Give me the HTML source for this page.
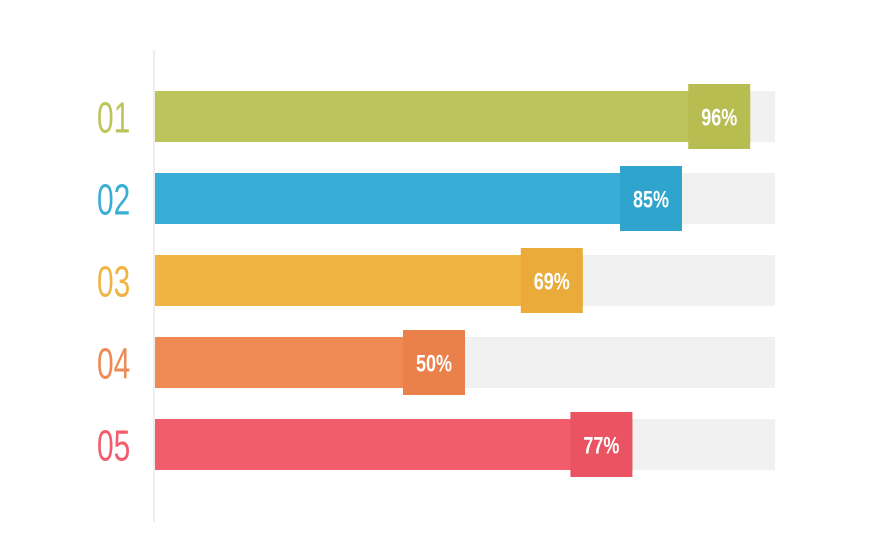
<!DOCTYPE html>
<html><head><meta charset="utf-8"><style>
body{margin:0;background:#fff;}
svg{display:block;}
text{font-family:"Liberation Sans Narrow","Liberation Sans",sans-serif;}
</style></head><body>
<svg id="chart" width="876" height="560" viewBox="0 0 876 560">
<line x1="154" y1="50" x2="154" y2="522" stroke="#eeeeee" stroke-width="2"/>
<g id="bars"></g>
</svg>
<script>
const categories = ["01","02","03","04","05"];
const values = [96,85,69,50,77];
const valueLabels = ["96%","85%","69%","50%","77%"];
const barColors = ["#bec45c","#38aed6","#f0b445","#f08a55","#f25d6b"];
const boxColors = ["#b8bd52","#2fa4cd","#eaab3a","#ea804a","#ea5361"];

const x0 = 155, trackW = 620, y0 = 91, step = 82, barH = 51, boxW = 62;
const xScale = v => x0 + v / 100 * trackW;
const yScale = i => y0 + i * step;
const NS = "http://www.w3.org/2000/svg";
const g = document.getElementById("bars");
function mk(tag, attrs){const e=document.createElementNS(NS,tag);for(const k in attrs)e.setAttribute(k,attrs[k]);g.appendChild(e);return e;}
categories.forEach((c,i)=>{
  const y = yScale(i), xe = xScale(values[i]);
  const track = mk("rect",{x:x0,y:y,width:trackW,height:barH,fill:"#f1f1f1"});
  
  
  const bar = mk("rect",{x:x0,y:y,width:xe-x0,height:barH,fill:barColors[i]});
  
  
  const box = mk("rect",{x:xe-boxW,y:y-7,width:boxW,height:barH+14,fill:boxColors[i]});
  
  
  const vt = mk("text",{x:0,y:0,"text-anchor":"middle","font-size":"24","font-weight":"bold",fill:"#ffffff",transform:`translate(${xe-boxW/2},${y+barH/2+9}) scale(0.75,1)`});
  vt.textContent = valueLabels[i];
  
  
  const lt = mk("text",{x:0,y:0,"font-size":"44",fill:barColors[i],transform:`translate(97,${y+barH/2+16}) scale(0.68,1)`});
  lt.textContent = c;
  
  
});
</script>
</body></html>
